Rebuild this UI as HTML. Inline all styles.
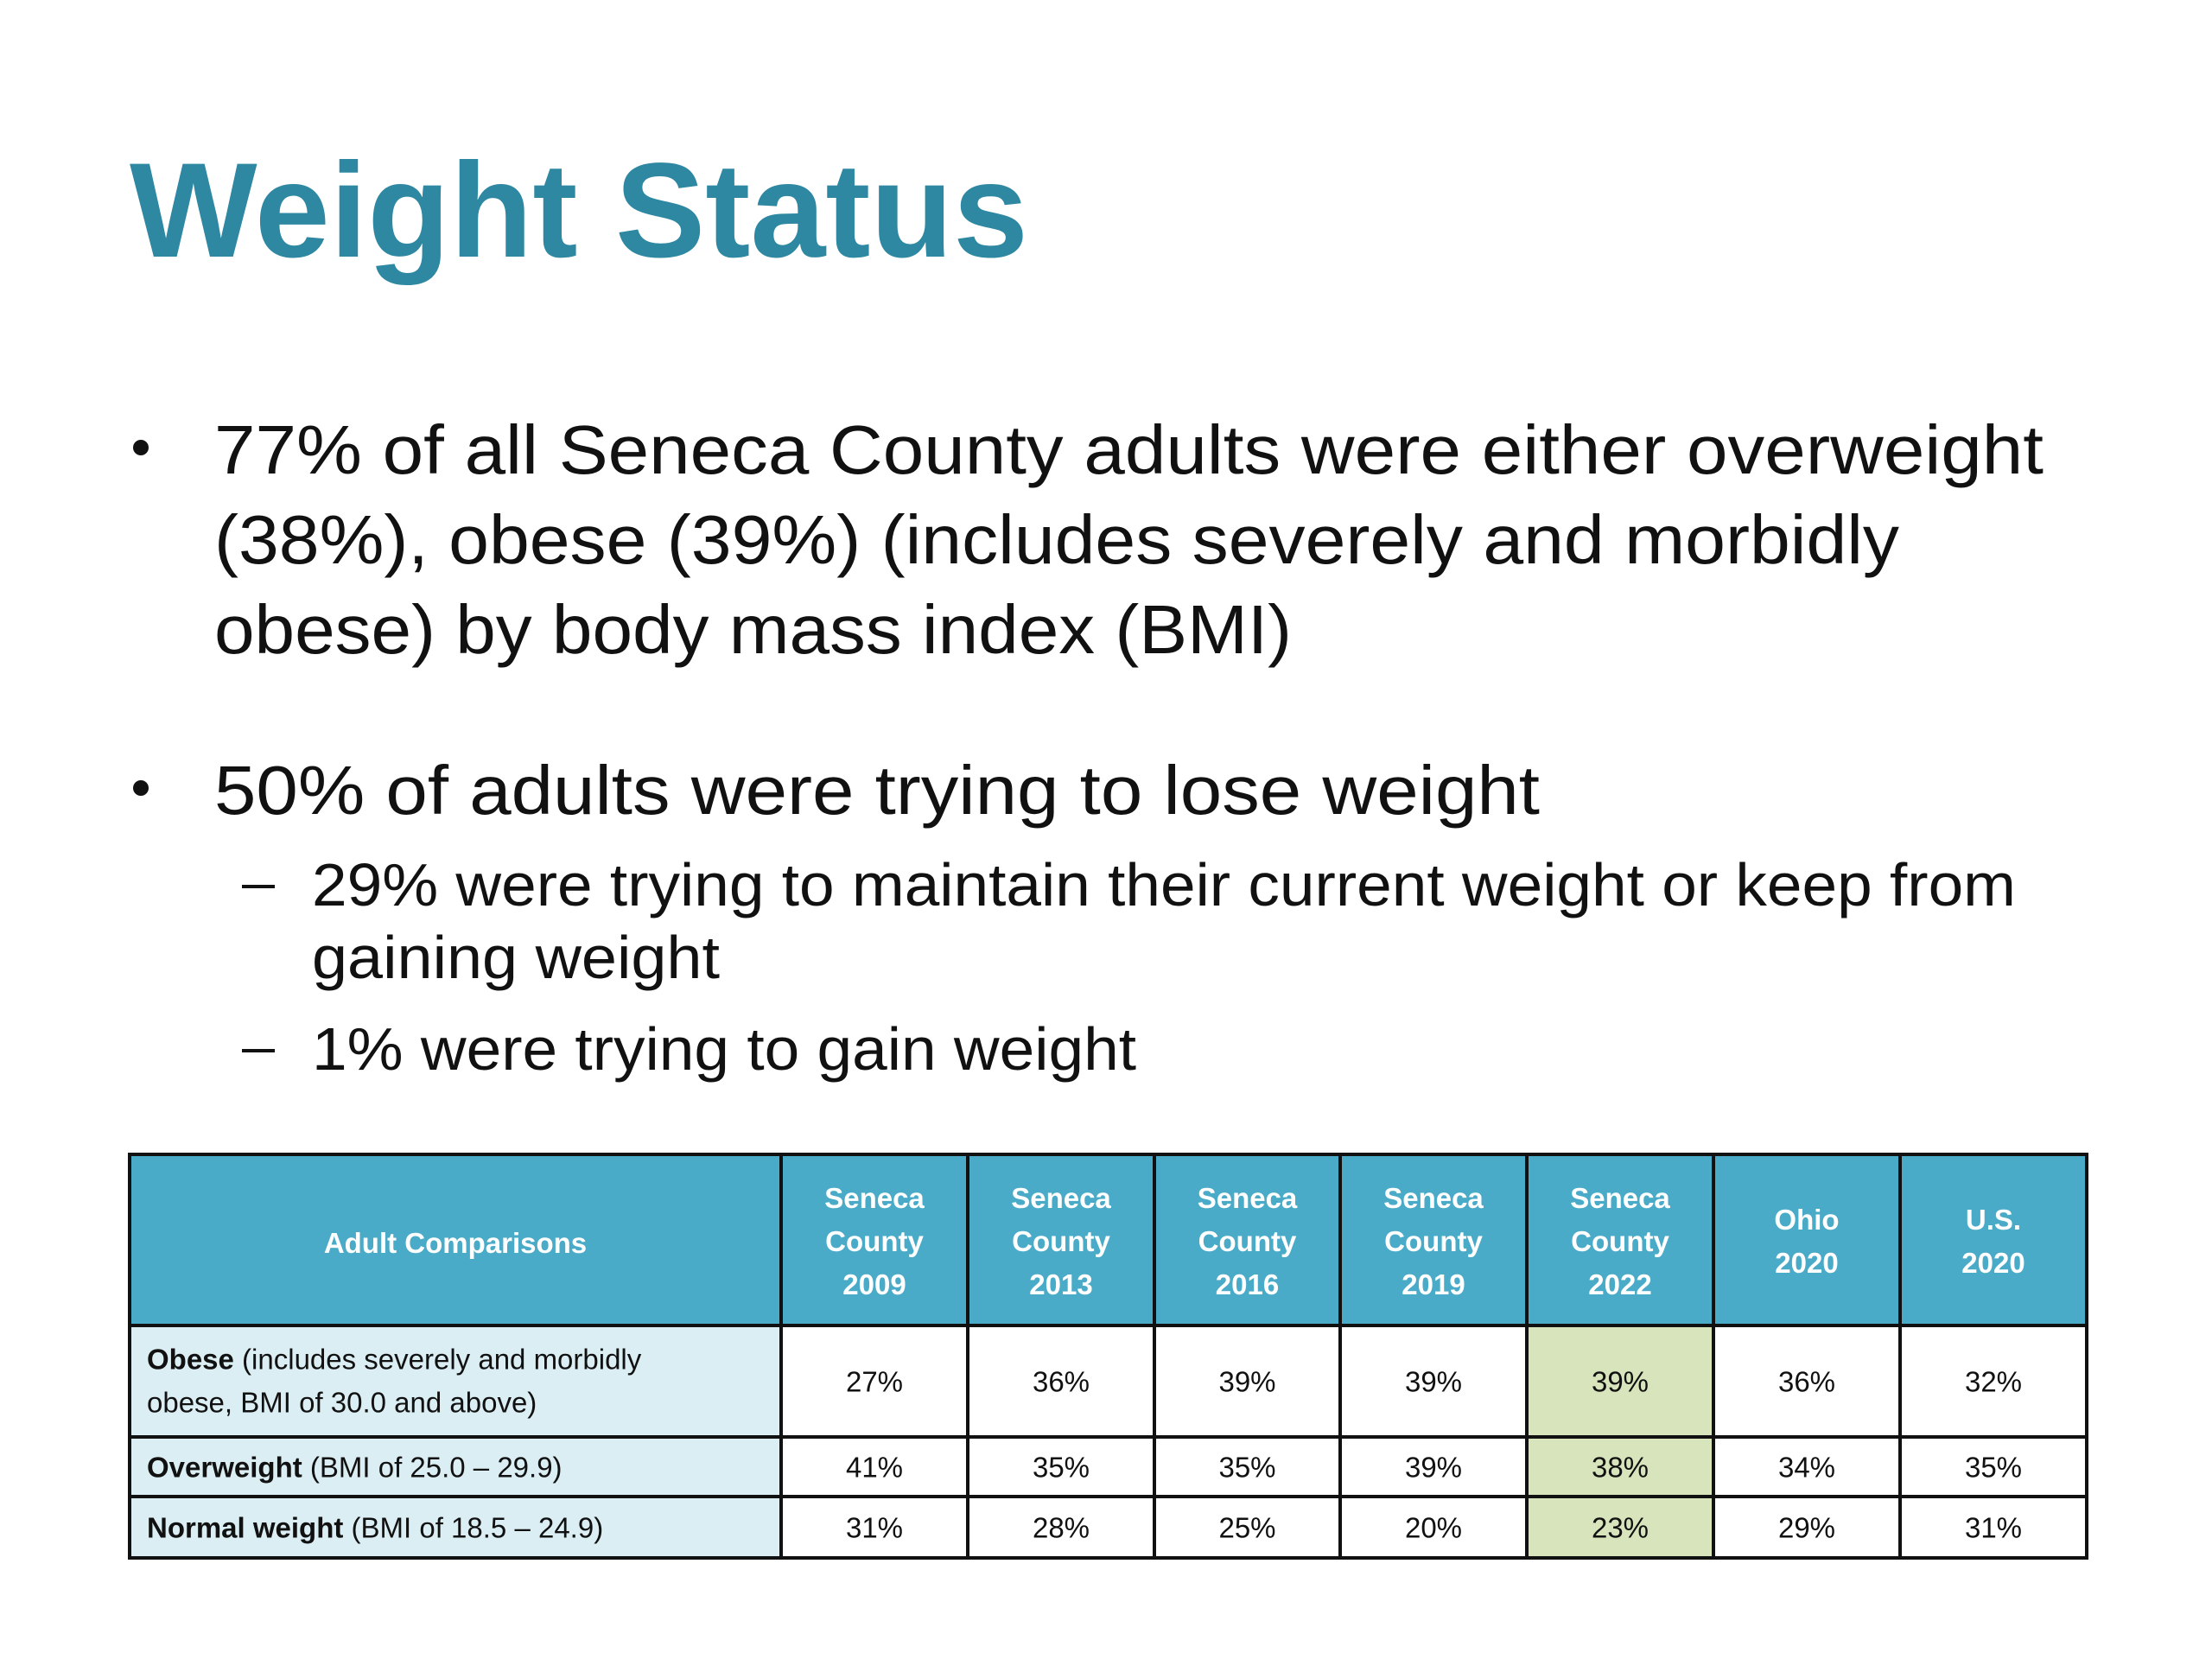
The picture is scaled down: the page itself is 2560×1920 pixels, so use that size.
<!DOCTYPE html>
<html><head><meta charset="utf-8"><style>
html,body{margin:0;padding:0;background:#fff;}
svg{display:block;}
</style></head><body>
<svg id="slide" width="2560" height="1920" viewBox="0 0 2560 1920" xmlns="http://www.w3.org/2000/svg" font-family="'Liberation Sans', sans-serif">
<rect width="2560" height="1920" fill="#fff"/>
<text x="150" y="297" font-size="156" font-weight="bold" fill="#2e88a2" textLength="1040" lengthAdjust="spacingAndGlyphs">Weight Status</text>
<g fill="#111" font-size="80">
<circle cx="163" cy="518" r="9" fill="#111"/>
<text x="248" y="548" textLength="2117" lengthAdjust="spacingAndGlyphs">77% of all Seneca County adults were either overweight</text>
<text x="248" y="652" textLength="1950" lengthAdjust="spacingAndGlyphs">(38%), obese (39%) (includes severely and morbidly</text>
<text x="248" y="756" textLength="1247" lengthAdjust="spacingAndGlyphs">obese) by body mass index (BMI)</text>
<circle cx="163" cy="912" r="9" fill="#111"/>
<text x="248" y="942" textLength="1534" lengthAdjust="spacingAndGlyphs">50% of adults were trying to lose weight</text>
<rect x="280" y="1024" width="38" height="4" fill="#111"/>
<text x="361" y="1048" font-size="70" textLength="1972" lengthAdjust="spacingAndGlyphs">29% were trying to maintain their current weight or keep from</text>
<text x="361" y="1132" font-size="70" textLength="472" lengthAdjust="spacingAndGlyphs">gaining weight</text>
<rect x="280" y="1214" width="38" height="4" fill="#111"/>
<text x="361" y="1238" font-size="70" textLength="954" lengthAdjust="spacingAndGlyphs">1% were trying to gain weight</text>
</g>
<g id="table"></g>
</svg>
<script>
const columns = [["Seneca","County","2009"],["Seneca","County","2013"],["Seneca","County","2016"],["Seneca","County","2019"],["Seneca","County","2022"],["Ohio","2020"],["U.S.","2020"]];
const rowBold = ["Obese","Overweight","Normal weight"];
const rowRest = [[" (includes severely and morbidly","obese, BMI of 30.0 and above)"],[" (BMI of 25.0 – 29.9)"],[" (BMI of 18.5 – 24.9)"]];
const obese = [27,36,39,39,39,36,32];
const overweight = [41,35,35,39,38,34,35];
const normal = [31,28,25,20,23,29,31];
const rowsData = [obese, overweight, normal];

const NS="http://www.w3.org/2000/svg";
const g=document.getElementById('table');
function mk(tag,attrs,parent){const e=document.createElementNS(NS,tag);for(const k in attrs)e.setAttribute(k,attrs[k]);(parent||g).appendChild(e);return e;}
const colX=[150,904,1120,1336,1551,1767,1983,2199,2415];
const rowY=[1336,1534,1663,1732,1803];
const hl=4;
// header
let h=mk('rect',{x:colX[0],y:rowY[0],width:colX[8]-colX[0],height:rowY[1]-rowY[0],fill:'#4aabc8'});


let ht=mk('text',{x:(colX[0]+colX[1])/2,y:1450,'text-anchor':'middle','font-size':33,'font-weight':'bold',fill:'#fff'});


ht.textContent='Adult Comparisons';
columns.forEach((c,i)=>{
  const cx=(colX[i+1]+colX[i+2])/2;
  const start = c.length===3 ? 1398 : 1423;
  c.forEach((ln,j)=>{
    const t=mk('text',{x:cx,y:start+j*50,'text-anchor':'middle','font-size':33,'font-weight':'bold',fill:'#fff'});
    
    
    t.textContent=ln;
  });
});
// body
rowsData.forEach((vals,r)=>{
  const y0=rowY[r+1], y1=rowY[r+2];
  const lb=mk('rect',{x:colX[0],y:y0,width:colX[1]-colX[0],height:y1-y0,fill:'#dbeef3'});
  
  
  const lines=rowRest[r];
  const cy=(y0+y1)/2;
  if(lines.length===2){
    const t1=mk('text',{x:170,y:cy-14,'font-size':33,fill:'#111'});
    
    
    const b=mk('tspan',{'font-weight':'bold'},t1);b.textContent=rowBold[r];
    const s=mk('tspan',{},t1);s.textContent=lines[0];
    const t2=mk('text',{x:170,y:cy+36,'font-size':33,fill:'#111'});
    
    
    t2.textContent=lines[1];
  } else {
    const t1=mk('text',{x:170,y:cy+12,'font-size':33,fill:'#111'});
    
    
    const b=mk('tspan',{'font-weight':'bold'},t1);b.textContent=rowBold[r];
    const s=mk('tspan',{},t1);s.textContent=lines[0];
  }
  vals.forEach((v,i)=>{
    if(i===hl){
      const hr=mk('rect',{x:colX[i+1],y:y0,width:colX[i+2]-colX[i+1],height:y1-y0,fill:'#d7e4bc'});
      
      
    }
    const t=mk('text',{x:(colX[i+1]+colX[i+2])/2,y:cy+12,'text-anchor':'middle','font-size':33,fill:'#111'});
    
    
    t.textContent=v+'%';
  });
});
// grid lines
colX.forEach(x=>{const l=mk('line',{x1:x,x2:x,y1:rowY[0],y2:rowY[4],stroke:'#111','stroke-width':4});
  
  });
rowY.forEach(y=>{const l=mk('line',{x1:colX[0]-2,x2:colX[8]+2,y1:y,y2:y,stroke:'#111','stroke-width':4});
  
  });
</script>
</body></html>
